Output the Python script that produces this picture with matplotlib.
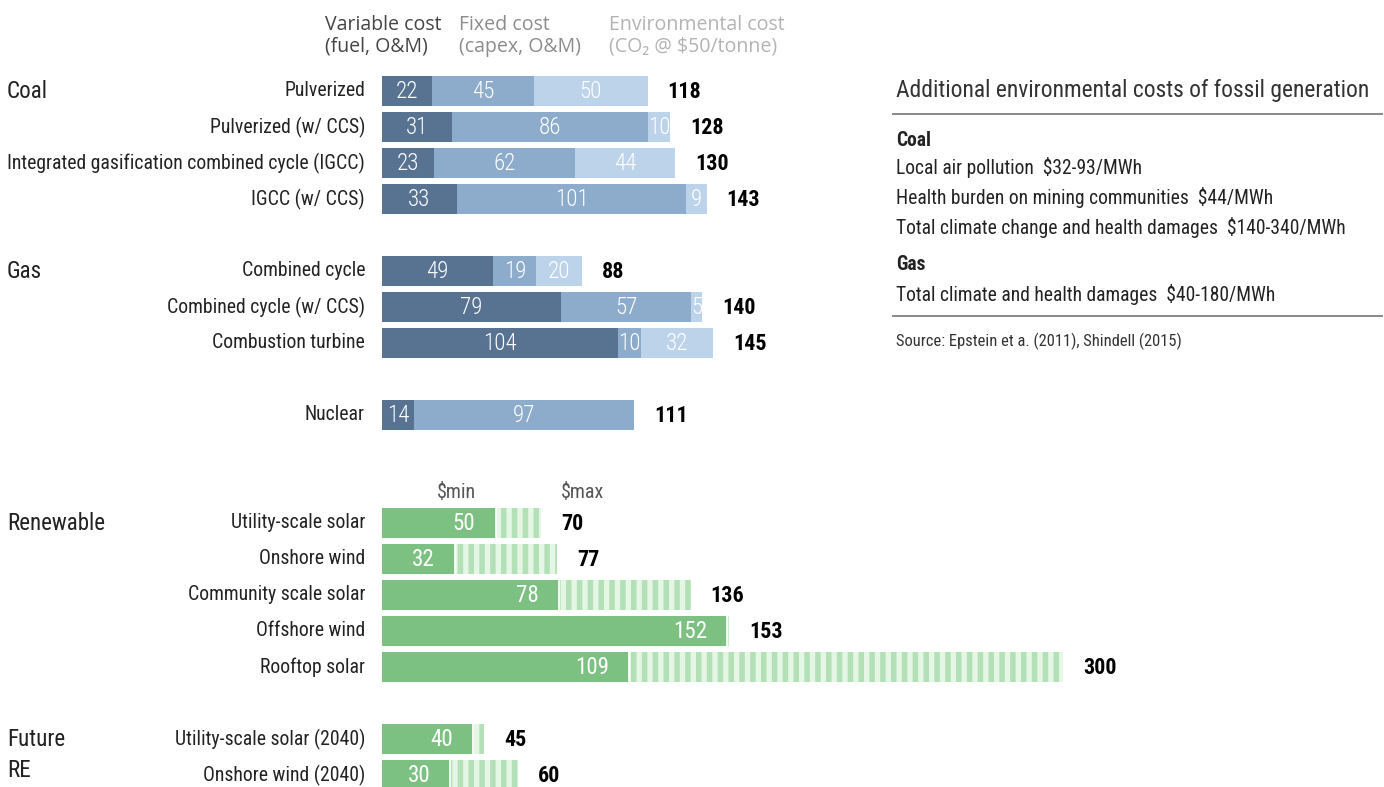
import matplotlib
matplotlib.use("Agg")
import matplotlib.pyplot as plt
from matplotlib import font_manager
from matplotlib.lines import Line2D
import matplotlib.transforms as mtransforms

# ---------------------------------------------------------------------------
# Data
# ---------------------------------------------------------------------------
fossil_names = ["Pulverized", "Pulverized (w/ CCS)",
                "Integrated gasification combined cycle (IGCC)", "IGCC (w/ CCS)",
                "Combined cycle", "Combined cycle (w/ CCS)", "Combustion turbine",
                "Nuclear"]
variable_cost = [22, 31, 23, 33, 49, 79, 104, 14]
fixed_cost = [45, 86, 62, 101, 19, 57, 10, 97]
env_cost = [50, 10, 44, 9, 20, 5, 32, 0]
fossil_totals = [118, 128, 130, 143, 88, 140, 145, 111]

renew_names = ["Utility-scale solar", "Onshore wind", "Community scale solar",
               "Offshore wind", "Rooftop solar",
               "Utility-scale solar (2040)", "Onshore wind (2040)"]
renew_min = [50, 32, 78, 152, 109, 40, 30]
renew_max = [70, 77, 136, 153, 300, 45, 60]

groups = ["Coal", "Gas", "", "Renewable", "Future\nRE"]
group_sizes = [4, 3, 1, 5, 2]
group_gaps = [0, 1, 1, 2, 1]   # empty rows before each group

side_title = "Additional environmental costs of fossil generation"
side_lines = [("Coal", True), ("Local air pollution  $32-93/MWh", False),
              ("Health burden on mining communities  $44/MWh", False),
              ("Total climate change and health damages  $140-340/MWh", False),
              ("Gas", True), ("Total climate and health damages  $40-180/MWh", False)]
side_source = "Source: Epstein et a. (2011), Shindell (2015)"

# ---------------------------------------------------------------------------
# Style
# ---------------------------------------------------------------------------
W, H, DPI = 1384, 787, 130
C_VAR, C_FIX, C_ENV = "#587392", "#8dabca", "#bcd3ea"
C_GREEN, C_STRIPE, C_STRIPE_BG = "#7cc182", "#b4e0b7", "#e5f6e4"

names = {f.name for f in font_manager.fontManager.ttflist}
COND = next((n for n in ["Roboto Condensed", "Liberation Sans Narrow",
                         "Open Sans Condensed", "DejaVu Sans Condensed"] if n in names),
            "Liberation Sans")
NARROW = [COND, "DejaVu Sans"]
WIDE = ["Open Sans", "DejaVu Sans"]


def fs(px):
    # font size given as em height in pixels
    return px * 72 / DPI


plt.rcParams["hatch.linewidth"] = 5.5 * 72 / DPI

fig = plt.figure(figsize=(W / DPI, H / DPI), dpi=DPI)
X0, PX_PER_UNIT, ROW_PX, ROW0_PX = 382, 2.27, 36, 91
ax = fig.add_axes([X0 / W, 0, 1 - X0 / W, 1])
ax.set_xlim(0, (W - X0) / PX_PER_UNIT)
ax.set_ylim((H - ROW0_PX) / ROW_PX, -ROW0_PX / ROW_PX)
ax.axis("off")

# row positions
rows, group_rows = [], []
r = 0
for size, gap in zip(group_sizes, group_gaps):
    r += gap
    group_rows.append(r)
    rows.extend(range(r, r + size))
    r += size
fossil_rows = rows[:len(fossil_names)]
renew_rows = rows[len(fossil_names):]

BAR_H = 0.83
label_kw = dict(textcoords="offset pixels", va="center", family=NARROW)

# fossil / nuclear stacked bars
ax.barh(fossil_rows, variable_cost, height=BAR_H, color=C_VAR, linewidth=0)
ax.barh(fossil_rows, fixed_cost, left=variable_cost, height=BAR_H, color=C_FIX, linewidth=0)
left_env = [a + b for a, b in zip(variable_cost, fixed_cost)]
ax.barh(fossil_rows, env_cost, left=left_env, height=BAR_H, color=C_ENV, linewidth=0)

for y, v, f, e, tot in zip(fossil_rows, variable_cost, fixed_cost, env_cost, fossil_totals):
    start = 0
    for val in (v, f, e):
        if val > 0:
            ax.annotate(str(val), (start + val / 2, y), xytext=(0, -1), ha="center",
                        color="white", fontsize=fs(23), fontweight="light", **label_kw)
        start += val
    ax.annotate(str(tot), (v + f + e, y), xytext=(20, -1), ha="left", color="black",
                fontsize=fs(22), fontweight="bold", **label_kw)

# renewables: solid min, striped up to max
ax.barh(renew_rows, renew_min, height=BAR_H, color=C_GREEN, linewidth=0)
rng = [b - a for a, b in zip(renew_min, renew_max)]
ax.barh(renew_rows, rng, left=renew_min, height=BAR_H, facecolor=C_STRIPE_BG,
        edgecolor=C_STRIPE, hatch="||", linewidth=0)
ax.barh(renew_rows, [0] * len(renew_rows), left=renew_min, height=BAR_H,
        edgecolor="white", linewidth=1.0)
for y, lo, hi in zip(renew_rows, renew_min, renew_max):
    ax.annotate(str(lo), (lo, y), xytext=(-20, -1), ha="right", color="white",
                fontsize=fs(23), **label_kw)
    ax.annotate(str(hi), (hi, y), xytext=(20, -1), ha="left", color="black",
                fontsize=fs(22), fontweight="bold", **label_kw)

# $min / $max captions above the first renewable row
ax.annotate("$min", (renew_min[0], renew_rows[0] - 0.85), xytext=(-20, 0), ha="right",
            color="#555555", fontsize=fs(20), **label_kw)
ax.annotate("$max", (renew_max[0], renew_rows[0] - 0.85), xytext=(20, 0), ha="left",
            color="#555555", fontsize=fs(20), **label_kw)

# row labels
for y, name in zip(fossil_rows + renew_rows, fossil_names + renew_names):
    ax.annotate(name, (0, y), xytext=(-17, 0), ha="right", color="#222222",
                fontsize=fs(19.8), **label_kw)

# group labels
gtrans = mtransforms.blended_transform_factory(fig.transFigure, ax.transData)
for name, gr, size in zip(groups, group_rows, group_sizes):
    if not name:
        continue
    yy = gr if "\n" not in name else gr + (size - 1) / 2 - 0.05
    ax.text(7 / W, yy, name, transform=gtrans, ha="left", va="center",
            fontsize=fs(23), color="#222222", family=NARROW, linespacing=1.45)

# header legend
header = [("Variable cost\n(fuel, O&M)", 325, "#444444"),
          ("Fixed cost\n(capex, O&M)", 459, "#8c8c8c"),
          ("Environmental cost\n(CO\u2082 @ $50/tonne)", 609, "#b3b3b3")]
for txt, xp, col in header:
    fig.text(xp / W, 1 - 36 / H, txt, ha="left", va="center", color=col,
             fontsize=fs(19.5), family=WIDE, linespacing=1.1)


# side panel
def fx(x):
    return x / W


def fy(y):
    return 1 - y / H


fig.text(fx(896), fy(91), side_title, ha="left", va="center", color="#333333",
         fontsize=fs(23.5), family=NARROW)
for y in (114, 316):
    fig.add_artist(Line2D([fx(893), fx(1382)], [fy(y), fy(y)], color="#8c8c8c", lw=1.1))
for i, (txt, bold) in enumerate(side_lines):
    ypix = [140, 168, 198, 228, 264, 294][i]
    fig.text(fx(896), fy(ypix), txt, ha="left", va="center", color="#222222",
             fontsize=fs(19.5), family=NARROW, fontweight="bold" if bold else "normal")
fig.text(fx(896), fy(341), side_source, ha="left", va="center", color="#333333",
         fontsize=fs(16.5), family=NARROW)

fig.savefig("out.png", dpi=DPI)
